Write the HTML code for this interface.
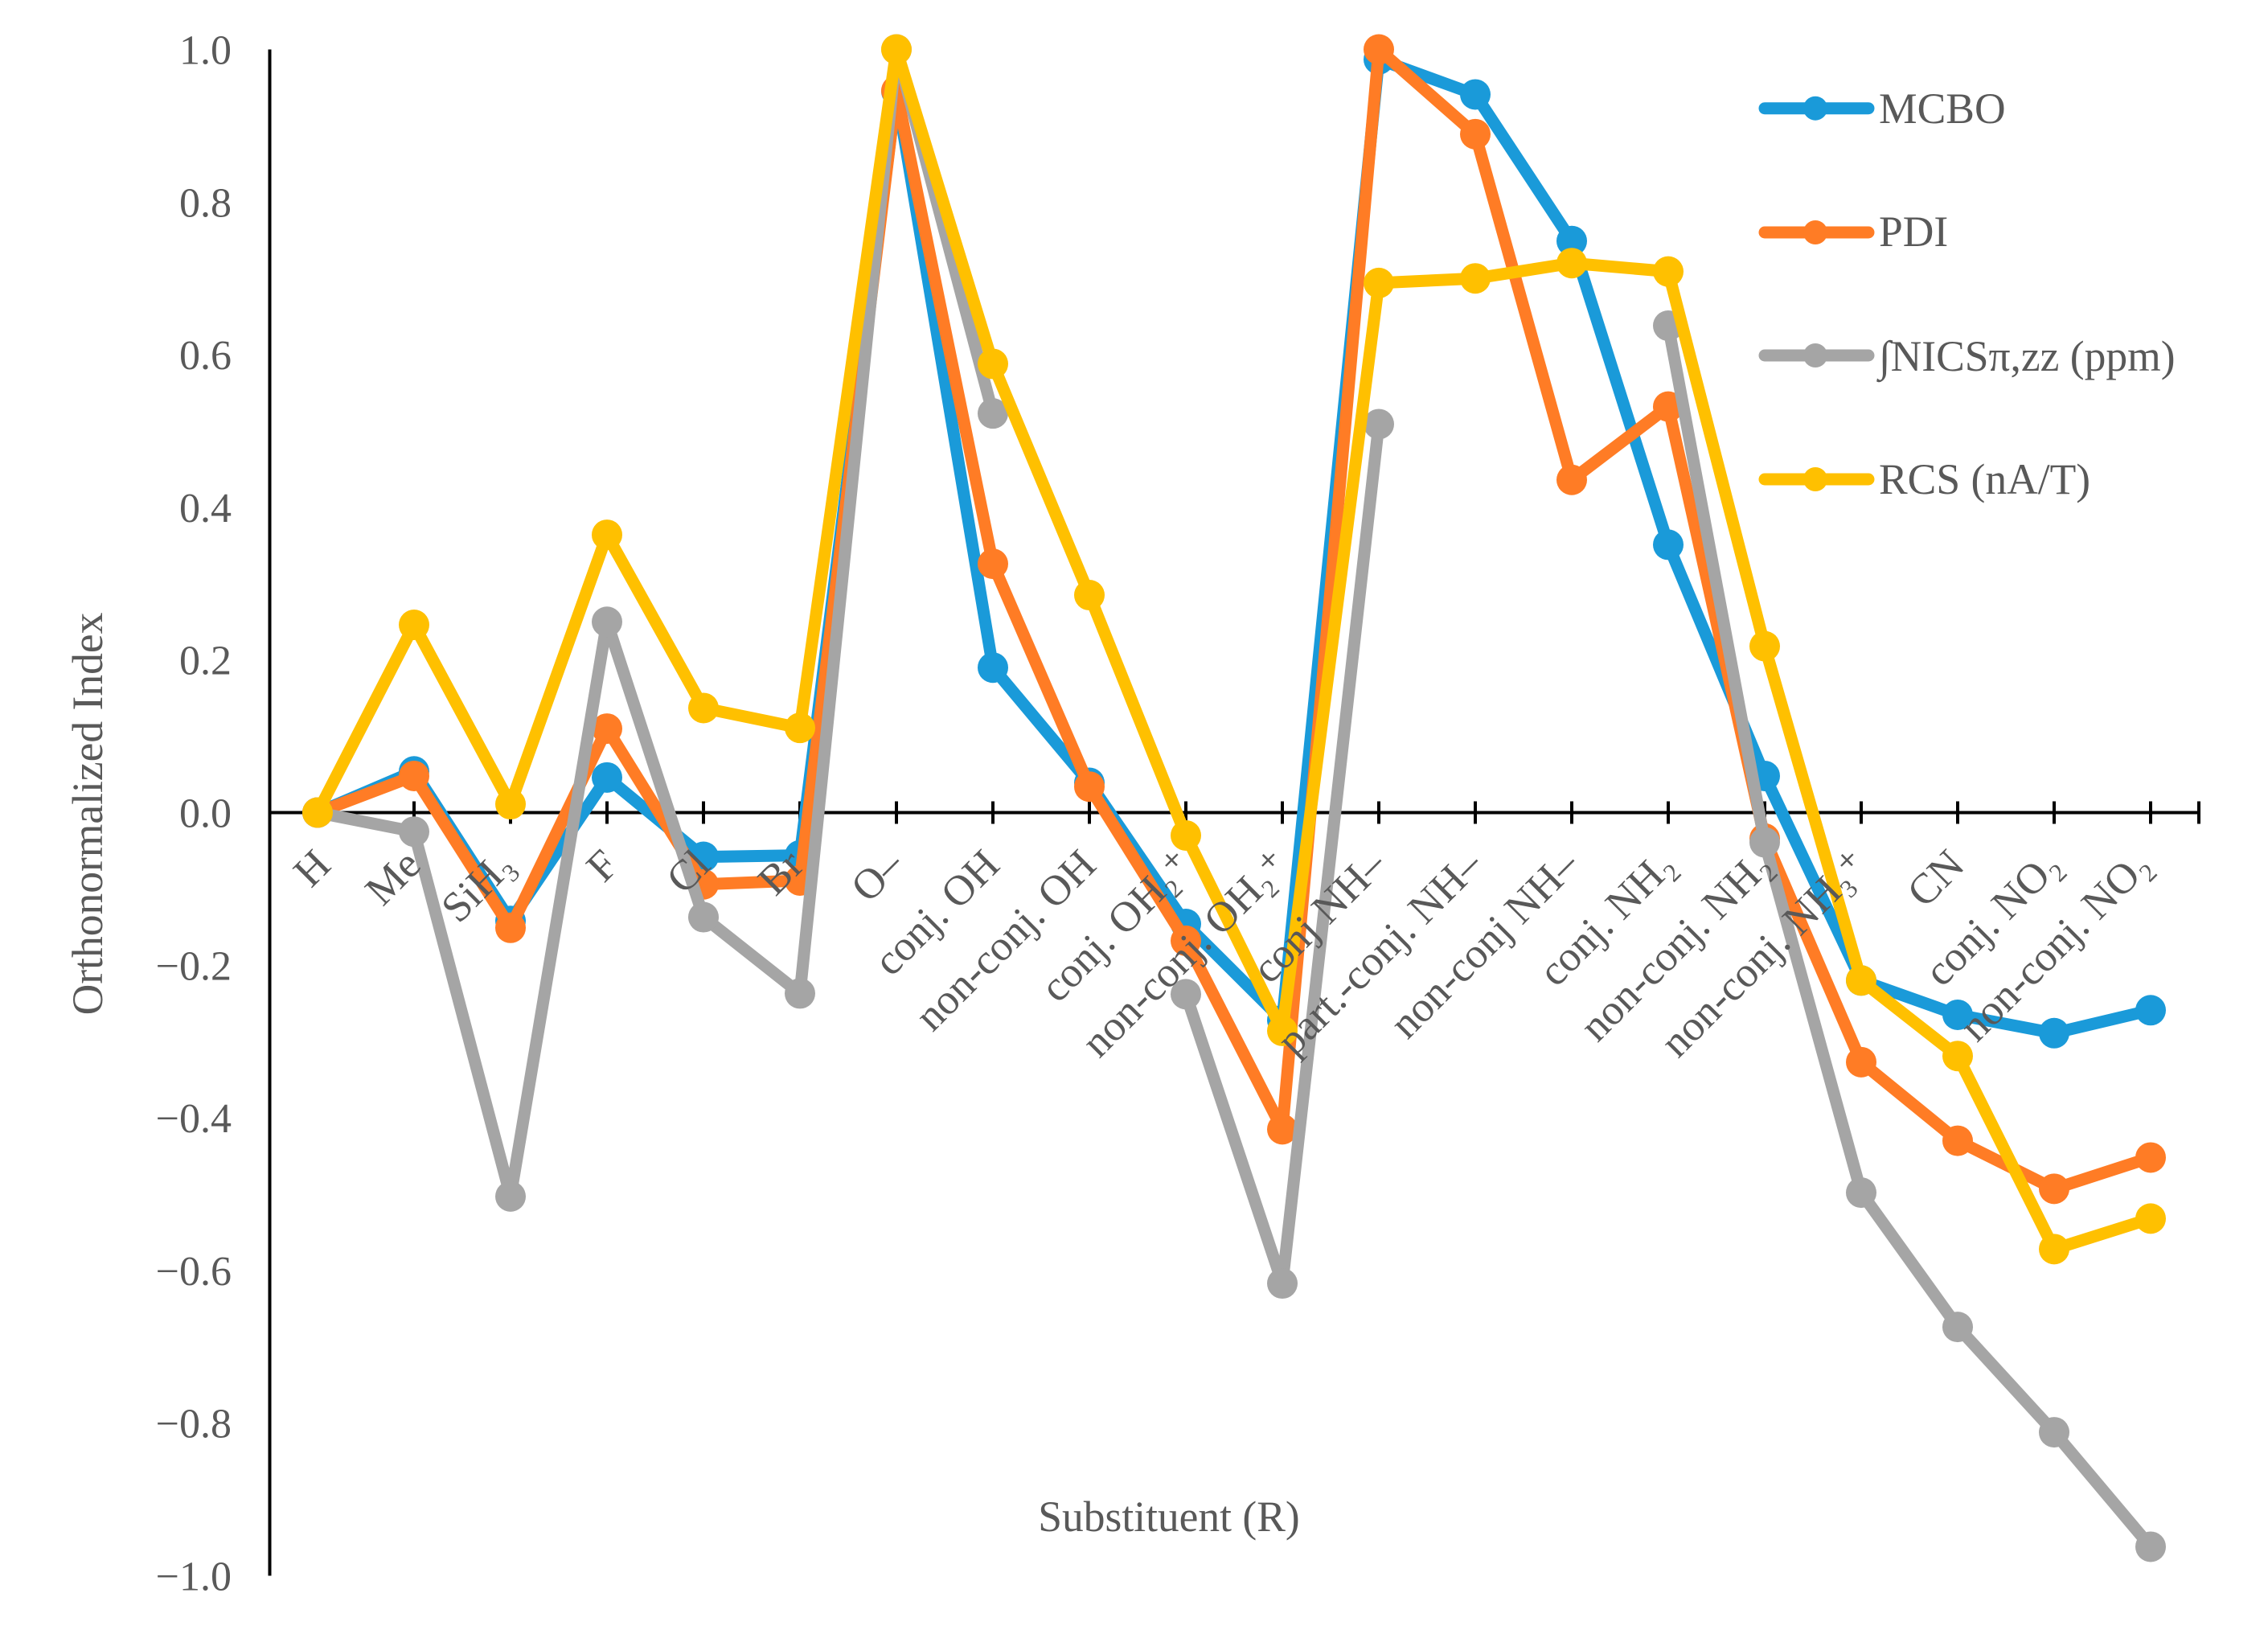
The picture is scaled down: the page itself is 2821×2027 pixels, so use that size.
<!DOCTYPE html>
<html lang="en">
<head>
<meta charset="utf-8">
<title>Orthonormalized Index by Substituent</title>
<style>
html,body{margin:0;padding:0;background:#fff;width:2821px;height:2027px;overflow:hidden}
svg{display:block}
text{font-family:"Liberation Serif","DejaVu Serif",serif;fill:#595959;font-size:53.5px}
</style>
</head>
<body>
<svg id="chart" xmlns="http://www.w3.org/2000/svg" width="2821" height="2027" viewBox="0 0 2821 2027">
  <rect x="0" y="0" width="2821" height="2027" fill="#ffffff"/>
  <g id="axes"></g>
  <g id="series"></g>
  <g id="xlabels"></g>
  <g id="ylabels"></g>
  <text transform="translate(127,1012) rotate(-90)" text-anchor="middle">Orthonormalized Index</text>
  <text x="1454" y="1904" text-anchor="middle">Substituent (R)</text>
  <g id="legend"></g>
</svg>
<script>
const categories = ["H","Me","SiH₃","F","Cl","Br","O–","conj. OH","non-conj. OH","conj. OH₂⁺","non-conj. OH₂⁺","conj NH–","part.-conj. NH–","non-conj NH–","conj. NH₂","non-conj. NH₂","non-conj. NH₃⁺","CN","conj. NO₂","non-conj. NO₂"];
const yTicks = [1.0,0.8,0.6,0.4,0.2,0.0,-0.2,-0.4,-0.6,-0.8,-1.0];
const seriesNames = ["MCBO","PDI","∫NICSπ,zz (ppm)","RCS (nA/T)"];
const mcbo = [0,0.054,-0.142,0.046,-0.058,-0.056,0.945,0.19,0.039,-0.146,-0.272,0.987,0.941,0.749,0.351,0.048,-0.22,-0.265,-0.289,-0.259];
const pdi = [0,0.048,-0.151,0.11,-0.094,-0.089,0.946,0.326,0.034,-0.168,-0.415,1.0,0.889,0.436,0.532,-0.034,-0.327,-0.43,-0.493,-0.452];
const nics = [0,-0.025,-0.503,0.25,-0.137,-0.237,1.0,0.523,null,-0.238,-0.617,0.509,null,null,0.638,-0.039,-0.498,-0.674,-0.812,-0.962];
const rcs = [0,0.246,0.011,0.364,0.137,0.111,1.0,0.588,0.285,-0.03,-0.286,0.694,0.70,0.72,0.709,0.218,-0.22,-0.319,-0.572,-0.532];

const NS = "http://www.w3.org/2000/svg";
const plotLeft = 335.5, plotRight = 2735, bandWidth = 120;
const yZero = 1010.5, yUnit = 949;
const colors = ["#1a9ad9","#ff7c25","#a5a5a5","#ffc000"];
const allSeries = [mcbo, pdi, nics, rcs];
const seriesKeys = ["mcbo","pdi","nics","rcs"];

function xScale(i){ return 335 + bandWidth * (i + 0.5); }
function yScale(v){ return yZero - yUnit * v; }
function labelNudge(i){
  if (i === 0) return 8;
  if (i === 3) return 6;
  if (i === 2 || i === 5) return -4;
  if (i === 19) return -8;
  return 0;
}
function mk(tag, parent){
  const el = document.createElementNS(NS, tag);
  parent.appendChild(el);
  return el;
}
function fmtTick(v){
  const s = Math.abs(v).toFixed(1);
  return (v < 0 ? "\u2212" : "") + s;
}

const axes = document.getElementById("axes");
const yAxis = mk("line", axes);


yAxis.setAttribute("x1", plotLeft);
yAxis.setAttribute("x2", plotLeft);
yAxis.setAttribute("y1", yScale(1));
yAxis.setAttribute("y2", yScale(-1));
yAxis.setAttribute("stroke", "#000");
yAxis.setAttribute("stroke-width", "4");

const xAxis = mk("line", axes);


xAxis.setAttribute("x1", plotLeft);
xAxis.setAttribute("x2", plotRight);
xAxis.setAttribute("y1", yScale(0));
xAxis.setAttribute("y2", yScale(0));
xAxis.setAttribute("stroke", "#000");
xAxis.setAttribute("stroke-width", "4");

categories.forEach(function(c, i){
  const t = mk("line", axes);
  
  
  t.setAttribute("x1", xScale(i));
  t.setAttribute("x2", xScale(i));
  t.setAttribute("y1", yScale(0) - 14);
  t.setAttribute("y2", yScale(0) + 14);
  t.setAttribute("stroke", "#000");
  t.setAttribute("stroke-width", "4");
});
const endTick = mk("line", axes);


endTick.setAttribute("x1", plotRight);
endTick.setAttribute("x2", plotRight);
endTick.setAttribute("y1", yScale(0) - 14);
endTick.setAttribute("y2", yScale(0) + 14);
endTick.setAttribute("stroke", "#000");
endTick.setAttribute("stroke-width", "4");

const seriesGroup = document.getElementById("series");
allSeries.forEach(function(values, s){
  const g = mk("g", seriesGroup);
  
  
  let d = "";
  let pen = false;
  values.forEach(function(v, i){
    if (v === null) { pen = false; return; }
    d += (pen ? "L" : "M") + xScale(i) + " " + yScale(v) + " ";
    pen = true;
  });
  const path = mk("path", g);
  
  
  path.setAttribute("d", d);
  path.setAttribute("fill", "none");
  path.setAttribute("stroke", colors[s]);
  path.setAttribute("stroke-width", "15");
  path.setAttribute("stroke-linejoin", "round");
  path.setAttribute("stroke-linecap", "round");
  values.forEach(function(v, i){
    if (v === null) return;
    const c = mk("circle", g);
    
    
    c.setAttribute("cx", xScale(i));
    c.setAttribute("cy", yScale(v));
    c.setAttribute("r", "19");
    c.setAttribute("fill", colors[s]);
  });
});

const xl = document.getElementById("xlabels");
categories.forEach(function(c, i){
  const t = mk("text", xl);
  
  
  t.setAttribute("text-anchor", "end");
  t.style.fontSize = "53px";
  t.setAttribute("transform", "translate(" + (xScale(i) + 11 + labelNudge(i)) + "," + (yScale(0) + 68) + ") rotate(-45)");
  t.textContent = c;
});

const yl = document.getElementById("ylabels");
yTicks.forEach(function(v){
  const t = mk("text", yl);
  
  
  t.setAttribute("text-anchor", "end");
  t.style.fontSize = "52px";
  t.setAttribute("x", 288);
  t.setAttribute("y", yScale(v) + 18);
  t.textContent = fmtTick(v);
});

const legend = document.getElementById("legend");
const legendRowY = [134.7, 289, 442, 596];
const legendBaseY = [153, 306, 461, 614];
seriesNames.forEach(function(name, s){
  const g = mk("g", legend);
  
  
  const l = mk("line", g);
  
  
  l.setAttribute("x1", 2195);
  l.setAttribute("x2", 2324);
  l.setAttribute("y1", legendRowY[s]);
  l.setAttribute("y2", legendRowY[s]);
  l.setAttribute("stroke", colors[s]);
  l.setAttribute("stroke-width", "15");
  l.setAttribute("stroke-linecap", "round");
  const c = mk("circle", g);
  
  
  c.setAttribute("cx", 2258);
  c.setAttribute("cy", legendRowY[s]);
  c.setAttribute("r", "15");
  c.setAttribute("fill", colors[s]);
  const t = mk("text", g);
  
  
  t.setAttribute("x", 2337);
  t.setAttribute("y", legendBaseY[s]);
  t.textContent = name;
});
</script>
</body>
</html>
